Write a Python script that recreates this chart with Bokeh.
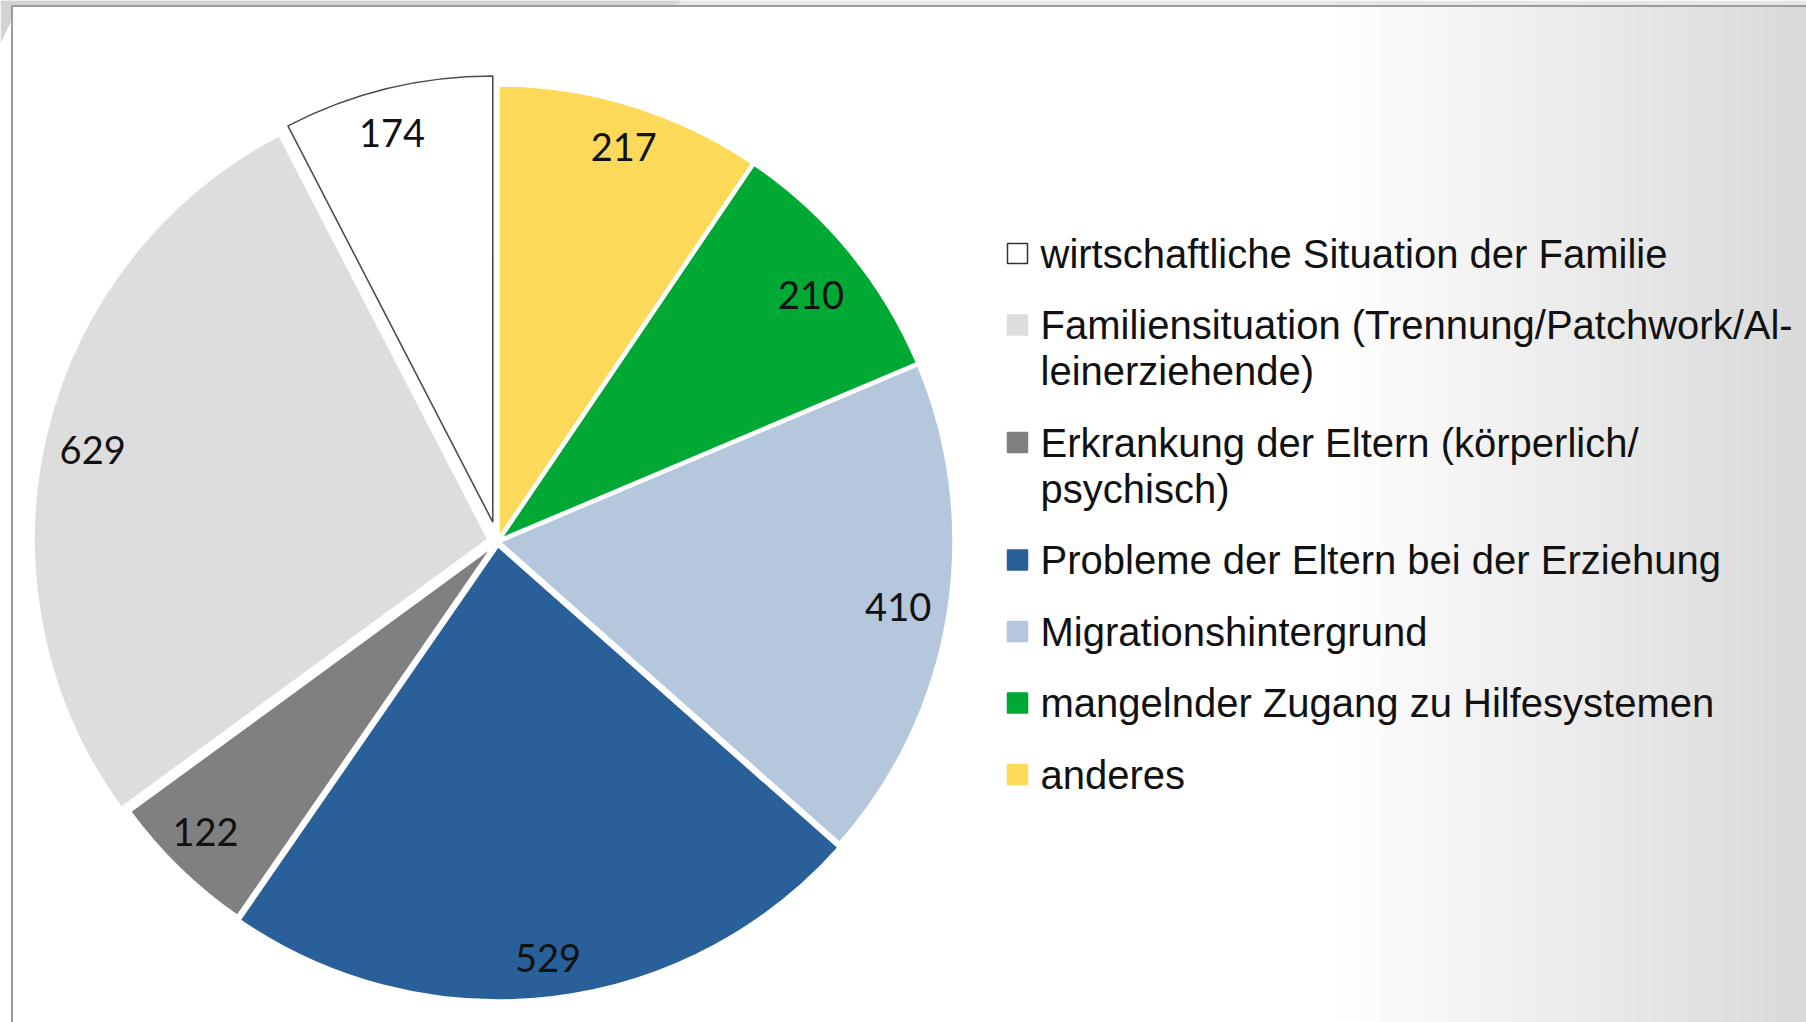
import numpy as np
from bokeh.plotting import figure
from bokeh.models import Range1d, ColumnDataSource
from bokeh.embed import file_html
from bokeh.resources import INLINE
from bokeh.core.properties import value

# ---------------- data ----------------
categories = [
    "wirtschaftliche Situation der Familie",
    "Familiensituation (Trennung/Patchwork/Al-\nleinerziehende)",
    "Erkrankung der Eltern (körperlich/\npsychisch)",
    "Probleme der Eltern bei der Erziehung",
    "Migrationshintergrund",
    "mangelnder Zugang zu Hilfesystemen",
    "anderes",
]
counts = [174, 629, 122, 529, 410, 210, 217]
colors = ["#ffffff", "#dddddd", "#808080", "#2a6099", "#b4c7dc", "#00a933", "#fdd95a"]

# ---------------- style ----------------
W, H = 1806, 1022
explode = [20, 8, 0, 3, 0, 0, 0]
radii = [446, 457, 457, 457, 457, 457, 457]
label_r = [402, 407, 412, 417, 406, 399, 414]
label_da = [0.85, 0.55, -0.9, 0.0, 0.0, -1.2, -0.7]   # degrees
CX, CY = 497, H - 541          # pie centre (figure px, y up)

p = figure(width=W, height=H, output_backend="svg", toolbar_location=None,
           x_range=Range1d(0, W), y_range=Range1d(0, H),
           min_border=0, outline_line_color=None)
p.axis.visible = False
p.grid.visible = False
p.background_fill_color = "#ffffff"
p.border_fill_color = "#ffffff"

# background gradient on the right
gx0, gx1 = 1325, W
n = 120
edges = np.linspace(gx0, gx1, n + 1)
gcols = []
for i in range(n):
    t = (edges[i] + edges[i + 1]) / 2
    f = (t - gx0) / (gx1 - gx0)
    v = int(round(255 - f * 38))
    gcols.append("#%02x%02x%02x" % (v, v, v))
p.quad(left=edges[:-1], right=edges[1:] + 0.6, bottom=0, top=H - 6,
       fill_color=gcols, line_color=None)

# outer slide frame bits
p.quad(left=0, right=W, bottom=H - 5, top=H, fill_color="#e6e6e6", line_color=None)
p.patch(x=[0, 682, 672, 0], y=[H, H, H - 5, H - 5], fill_color="#d3d3d3", line_color=None)
p.patch(x=[0, 11, 11, 0], y=[H - 5, H - 5, H - 20, H - 43], fill_color="#d3d3d3", line_color=None)
p.line(x=[11.5, 11.5], y=[0, H - 5], line_color="#9c9c9c", line_width=2)
p.line(x=[11.5, W], y=[H - 5.5, H - 5.5], line_color="#9c9c9c", line_width=2)

# ---------------- pie ----------------
vals = np.array(counts, dtype=float)
frac = vals / vals.sum()
start = np.pi / 2 + 2 * np.pi * np.concatenate([[0], np.cumsum(frac)[:-1]])
end = start + 2 * np.pi * frac
mid = (start + end) / 2
ex = np.array(explode, dtype=float)
xs = CX + ex * np.cos(mid)
ys = CY + ex * np.sin(mid)
lines = ["#4d4d4d" if c == "#ffffff" else "#ffffff" for c in colors]
lws = [1.6 if c == "#ffffff" else 4.5 for c in colors]

data = dict(x=xs, y=ys, r=radii, start=start, end=end, color=colors,
            line=lines, lw=lws)
order = [1, 2, 3, 4, 5, 6, 0]
src = ColumnDataSource({k: [v[i] for i in order] for k, v in data.items()})
p.wedge(x="x", y="y", radius="r", start_angle="start", end_angle="end",
        fill_color="color", line_color="line", line_width="lw", source=src)

lr = np.array(label_r, dtype=float)
la = mid + np.radians(label_da)
lx = xs + lr * np.cos(la)
ly = ys + lr * np.sin(la)
p.text(x=lx, y=ly, text=[str(c) for c in counts], text_align="center",
       text_baseline="middle", text_font=value("Lato"),
       text_font_size="38px", text_color="#111111")

# ---------------- legend ----------------
LEG_TX = 1040
LEG_MX = 1017
y = H - 253
STEP, LINE = 71.5, 46
mk_x, mk_y, mk_c, mk_l = [], [], [], []
tx, ty, tt = [], [], []
for cat, col in zip(categories, colors):
    parts = cat.split("\n")
    mk_x.append(LEG_MX); mk_y.append(y); mk_c.append(col)
    mk_l.append("#333333" if col == "#ffffff" else col)
    for j, part in enumerate(parts):
        tx.append(LEG_TX); ty.append(y - j * LINE); tt.append(part)
    y -= STEP + LINE * (len(parts) - 1)

p.scatter(x=mk_x, y=mk_y, marker="square", size=20, fill_color=mk_c,
          line_color=mk_l, line_width=1.5)
p.text(x=tx, y=ty, text=tt, text_align="left", text_baseline="middle",
       text_font=value("Liberation Sans"), text_font_size="40px",
       text_color="#111111")

open("out.html", "w").write(file_html(p, INLINE))
